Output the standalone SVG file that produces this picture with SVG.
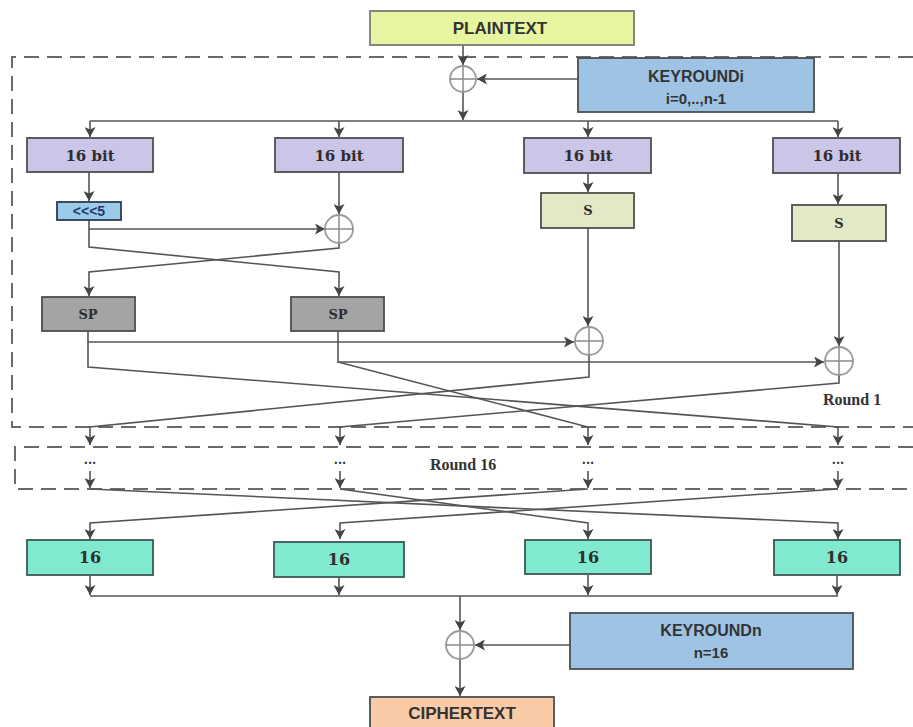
<svg xmlns="http://www.w3.org/2000/svg" width="913" height="727" viewBox="0 0 913 727">
  <defs>
    <marker id="arrow" markerUnits="userSpaceOnUse" markerWidth="11" markerHeight="11" refX="10" refY="5.5" orient="auto">
      <path d="M0,0 L10,5.5 L0,11 L2.5,5.5 Z" fill="#444"/>
    </marker>
    <style>
      .bg { fill: #ffffff; }
      .dash { fill: none; stroke: #6b6b6b; stroke-width: 2; stroke-dasharray: 15 8; }
      .conn { fill: none; stroke: #555; stroke-width: 1.6; }
      .arr { marker-end: url(#arrow); }
      .xor circle { fill: none; stroke: #9a9a9a; stroke-width: 1.8; }
      .xor line { stroke: #8a8a8a; stroke-width: 1.5; }
      .box { stroke: #4e4e4e; stroke-width: 1.8; }
      .plain { fill: #e8f5a0; stroke: #7a7a7a; }
      .key { fill: #9fc3e5; }
      .cipher { fill: #f8cba6; }
      .half { fill: #cbc5e8; }
      .rot { fill: #9ccbea; stroke: #2c3b55; }
      .sbox { fill: #e3e8c6; }
      .sp { fill: #a4a4a4; }
      .out { fill: #80e9cf; stroke: #3c5856; }
      .sans { font-family: "Liberation Sans", Arial, sans-serif; font-weight: bold; fill: #333; text-anchor: middle; }
      .serif { font-family: "DejaVu Serif", "Liberation Serif", serif; font-weight: bold; fill: #2e2e2e; text-anchor: middle; }
      .label { font-family: "Liberation Serif", "Times New Roman", serif; font-weight: bold; fill: #333; text-anchor: middle; font-size: 16px; }
    </style>
  </defs>

  <rect class="bg" x="0" y="0" width="913" height="727"/>

  <!-- round frames -->
  <g id="round1-frame">
    <path class="dash" d="M913,57 H12 V427 H913"/>
    <text class="label" x="852" y="405">Round 1</text>
  </g>
  <g id="round16-frame">
    <path class="dash" d="M913,447 H15 V489 H913"/>
    <text class="label" x="463" y="470">Round 16</text>
  </g>

  <!-- connectors -->
  <g id="connectors">
    <!-- input whitening -->
    <path class="conn arr" d="M463,45 V65"/>
    <path class="conn arr" d="M463,92 V120"/>
    <path class="conn arr" d="M578,79 H477"/>
    <path class="conn" d="M90,121 H838"/>
    <path class="conn arr" d="M90,121 V137"/>
    <path class="conn arr" d="M339,121 V137"/>
    <path class="conn arr" d="M588,121 V137"/>
    <path class="conn arr" d="M838,121 V137"/>

    <!-- left pair -->
    <path class="conn arr" d="M89,172 V201"/>
    <path class="conn arr" d="M89,220 V229 H325"/>
    <path class="conn arr" d="M89,229 V247 L339,272 V296"/>
    <path class="conn arr" d="M339,172 V214"/>
    <path class="conn arr" d="M339,243 V248 L89,272 V296"/>

    <!-- S boxes -->
    <path class="conn arr" d="M588,173 V192"/>
    <path class="conn arr" d="M838,173 V204"/>
    <path class="conn arr" d="M588,228 V326"/>
    <path class="conn arr" d="M839,241 V346"/>

    <!-- SP outputs into the right pair -->
    <path class="conn arr" d="M88,331 V342 H574"/>
    <path class="conn arr" d="M338,331 V362 H824"/>

    <!-- round 1 permutation -->
    <path class="conn arr" d="M88,342 V367 L838,427 V445"/>
    <path class="conn arr" d="M338,362 L588,427 V445"/>
    <path class="conn arr" d="M589,355 V377 L90,427 V445"/>
    <path class="conn arr" d="M839,375 V383 L340,427 V445"/>

    <!-- round 16 -->
    <path class="conn arr" d="M90,471 V488"/>
    <path class="conn arr" d="M340,471 V488"/>
    <path class="conn arr" d="M588,471 V488"/>
    <path class="conn arr" d="M838,471 V488"/>

    <!-- final permutation -->
    <path class="conn arr" d="M90,489 L838,523 V539"/>
    <path class="conn arr" d="M340,489 L588,523 V539"/>
    <path class="conn arr" d="M588,489 L90,523 V539"/>
    <path class="conn arr" d="M838,489 L340,523 V539"/>

    <!-- output whitening -->
    <path class="conn arr" d="M90,576 V595"/>
    <path class="conn arr" d="M339,577 V595"/>
    <path class="conn arr" d="M588,575 V595"/>
    <path class="conn arr" d="M837,576 V595"/>
    <path class="conn" d="M90,596 H838"/>
    <path class="conn arr" d="M460,596 V630"/>
    <path class="conn arr" d="M460,659 V696"/>
    <path class="conn arr" d="M570,645 H475"/>
  </g>

  <!-- nodes -->
  <g id="plaintext">
    <rect class="box plain" x="370" y="11" width="264" height="34"/>
    <text class="sans" x="500" y="34" font-size="17">PLAINTEXT</text>
  </g>

  <g id="keyround-i">
    <rect class="box key" x="578" y="58" width="236" height="54"/>
    <text class="sans" x="696" y="82" font-size="16">KEYROUNDi</text>
    <text class="sans" x="696" y="104" font-size="15">i=0,..,n-1</text>
  </g>

  <g id="xor-in" class="xor">
    <circle cx="463" cy="79" r="13"/>
    <line x1="450" y1="79" x2="476" y2="79"/>
    <line x1="463" y1="66" x2="463" y2="92"/>
  </g>

  <g id="half-1">
    <rect class="box half" x="27" y="138" width="126" height="34"/>
    <text class="serif" x="90" y="161" font-size="15">16 bit</text>
  </g>
  <g id="half-2">
    <rect class="box half" x="275" y="138" width="128" height="34"/>
    <text class="serif" x="339" y="161" font-size="15">16 bit</text>
  </g>
  <g id="half-3">
    <rect class="box half" x="524" y="138" width="127" height="35"/>
    <text class="serif" x="588" y="161" font-size="15">16 bit</text>
  </g>
  <g id="half-4">
    <rect class="box half" x="773" y="138" width="127" height="35"/>
    <text class="serif" x="837" y="161" font-size="15">16 bit</text>
  </g>

  <g id="rotate">
    <rect class="box rot" x="57" y="202" width="64" height="18"/>
    <text class="sans" x="89" y="216" font-size="14" style="fill:#1d3c66">&lt;&lt;&lt;5</text>
  </g>

  <g id="xor-left" class="xor">
    <circle cx="339" cy="229" r="14"/>
    <line x1="325" y1="229" x2="353" y2="229"/>
    <line x1="339" y1="215" x2="339" y2="243"/>
  </g>

  <g id="s-3">
    <rect class="box sbox" x="541" y="193" width="93" height="35"/>
    <text class="serif" x="588" y="215" font-size="13">S</text>
  </g>
  <g id="s-4">
    <rect class="box sbox" x="792" y="205" width="94" height="36"/>
    <text class="serif" x="839" y="228" font-size="13">S</text>
  </g>

  <g id="sp-1">
    <rect class="box sp" x="42" y="297" width="93" height="34"/>
    <text class="serif" x="88" y="319" font-size="13">SP</text>
  </g>
  <g id="sp-2">
    <rect class="box sp" x="291" y="297" width="93" height="34"/>
    <text class="serif" x="338" y="319" font-size="13">SP</text>
  </g>

  <g id="xor-3" class="xor">
    <circle cx="589" cy="341" r="14"/>
    <line x1="575" y1="341" x2="603" y2="341"/>
    <line x1="589" y1="327" x2="589" y2="355"/>
  </g>
  <g id="xor-4" class="xor">
    <circle cx="839" cy="361" r="14"/>
    <line x1="825" y1="361" x2="853" y2="361"/>
    <line x1="839" y1="347" x2="839" y2="375"/>
  </g>

  <g id="dots">
    <text class="serif" x="90" y="464" font-size="12">...</text>
    <text class="serif" x="340" y="464" font-size="12">...</text>
    <text class="serif" x="588" y="464" font-size="12">...</text>
    <text class="serif" x="838" y="464" font-size="12">...</text>
  </g>

  <g id="out-1">
    <rect class="box out" x="27" y="540" width="126" height="35"/>
    <text class="serif" x="90" y="563" font-size="16">16</text>
  </g>
  <g id="out-2">
    <rect class="box out" x="274" y="542" width="130" height="35"/>
    <text class="serif" x="339" y="565" font-size="16">16</text>
  </g>
  <g id="out-3">
    <rect class="box out" x="525" y="540" width="126" height="34"/>
    <text class="serif" x="588" y="563" font-size="16">16</text>
  </g>
  <g id="out-4">
    <rect class="box out" x="774" y="540" width="126" height="35"/>
    <text class="serif" x="837" y="563" font-size="16">16</text>
  </g>

  <g id="xor-out" class="xor">
    <circle cx="460" cy="645" r="14"/>
    <line x1="446" y1="645" x2="474" y2="645"/>
    <line x1="460" y1="631" x2="460" y2="659"/>
  </g>

  <g id="keyround-n">
    <rect class="box key" x="570" y="613" width="283" height="56"/>
    <text class="sans" x="711" y="636" font-size="16">KEYROUNDn</text>
    <text class="sans" x="711" y="658" font-size="15">n=16</text>
  </g>

  <g id="ciphertext">
    <rect class="box cipher" x="370" y="697" width="184" height="34"/>
    <text class="sans" x="462" y="719" font-size="17">CIPHERTEXT</text>
  </g>
</svg>
